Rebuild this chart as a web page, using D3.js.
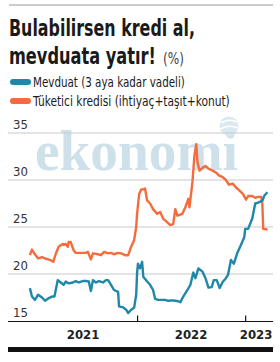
<!DOCTYPE html>
<html>
<head>
<meta charset="utf-8">
<script src="https://cdn.jsdelivr.net/npm/d3@7"></script>
<style>
  body { margin: 0; background: #fff; }
  svg { display: block; }
  .narrow { font-family: "Liberation Sans Narrow", "DejaVu Sans Condensed", "Roboto", sans-serif; }
</style>
</head>
<body>
<div id="chart"></div>
<script>
// Mevduat (3 aya kadar vadeli)
var depositDates = ["2021-01-04","2021-01-11","2021-01-21","2021-02-01","2021-02-14","2021-02-24","2021-03-07","2021-03-20","2021-03-28","2021-04-08","2021-04-14","2021-04-28","2021-05-05","2021-05-15","2021-05-29","2021-06-08","2021-06-18","2021-07-02","2021-07-15","2021-07-22","2021-07-29","2021-08-05","2021-08-15","2021-08-25","2021-09-08","2021-09-18","2021-09-25","2021-10-05","2021-10-15","2021-10-29","2021-11-01","2021-11-15","2021-11-25","2021-12-02","2021-12-12","2021-12-22","2021-12-29","2022-01-01","2022-01-04","2022-01-11","2022-01-18","2022-01-22","2022-02-04","2022-02-14","2022-02-24","2022-03-03","2022-03-13","2022-03-27","2022-04-06","2022-04-16","2022-04-30","2022-05-10","2022-05-20","2022-05-27","2022-06-06","2022-06-20","2022-06-30","2022-07-10","2022-07-17","2022-07-27","2022-08-10","2022-08-20","2022-08-30","2022-09-10","2022-09-17","2022-09-27","2022-10-07","2022-10-17","2022-10-28","2022-11-04","2022-11-14","2022-11-24","2022-12-05","2022-12-15","2022-12-29","2023-01-01","2023-01-11","2023-01-25","2023-02-04","2023-02-14","2023-02-28","2023-03-07","2023-03-17"];
var depositValues = [18.5,17.6,17.25,17.8,17.5,17.15,17.4,17.6,17.6,19.35,19.2,18.85,19.2,19.0,19.1,19.25,19.1,19.25,19.25,19.2,18.2,19.35,19.1,19.25,19.1,19.35,19.35,18.85,18.3,18.1,16.55,16.45,16.2,15.85,16.2,16.4,17.8,20.1,21.1,20.6,21.3,19.7,19.2,18.85,18.3,17.35,17.25,17.25,17.25,17.15,17.2,17.15,17.1,17.0,17.6,18.3,18.85,20.15,19.55,20.6,20.25,19.55,18.55,18.6,19.35,19.35,18.5,19.15,19.55,19.9,21.5,21.1,22.2,22.9,23.9,24.8,24.8,25.9,27.5,27.6,27.8,28.35,28.7];

// Tüketici kredisi (ihtiyaç+taşıt+konut)
var loanDates = ["2021-01-04","2021-01-11","2021-01-21","2021-02-01","2021-02-14","2021-02-24","2021-03-07","2021-03-20","2021-03-24","2021-04-01","2021-04-11","2021-04-25","2021-04-28","2021-05-05","2021-05-12","2021-05-15","2021-05-22","2021-06-01","2021-06-08","2021-06-25","2021-07-12","2021-07-19","2021-07-29","2021-08-05","2021-08-22","2021-09-01","2021-09-12","2021-09-25","2021-10-05","2021-10-15","2021-10-29","2021-11-08","2021-11-22","2021-12-02","2021-12-12","2021-12-22","2021-12-29","2022-01-01","2022-01-08","2022-01-15","2022-01-22","2022-01-28","2022-02-04","2022-02-14","2022-02-24","2022-03-10","2022-03-20","2022-03-30","2022-04-13","2022-04-23","2022-05-03","2022-05-10","2022-05-17","2022-06-03","2022-06-13","2022-06-23","2022-06-27","2022-07-07","2022-07-14","2022-07-20","2022-07-24","2022-07-31","2022-08-10","2022-08-20","2022-08-30","2022-09-13","2022-09-24","2022-10-04","2022-10-17","2022-10-28","2022-11-07","2022-11-21","2022-12-01","2022-12-12","2022-12-25","2023-01-04","2023-01-11","2023-01-25","2023-02-04","2023-02-14","2023-02-24","2023-02-28","2023-03-03","2023-03-14","2023-03-17"];
var loanValues = [22.0,22.6,22.1,21.65,21.8,21.65,21.55,21.4,21.3,22.1,22.9,23.2,23.1,23.2,22.9,23.4,23.4,22.5,22.25,22.25,22.25,22.35,21.55,22.2,22.1,22.0,22.35,22.2,22.25,22.1,22.25,22.2,22.0,22.0,22.9,23.6,25.0,26.4,28.5,29.0,29.0,29.1,27.8,27.5,26.9,26.4,26.6,25.9,25.5,25.2,25.3,26.9,26.2,26.4,27.1,28.0,27.1,29.8,32.7,33.8,31.9,31.0,31.3,31.5,31.2,31.0,30.8,30.5,30.3,30.0,29.5,29.6,29.2,28.9,28.5,27.9,28.3,28.3,28.1,28.2,28.2,27.5,24.8,24.75,24.8];

var yTicks = [15, 20, 25, 30, 35];
var yearLabels = ["2021", "2022", "2023"];

var blue = "#1f87a8";
var orange = "#f36c3d";

var svgWidth = 280, svgHeight = 362;
var parse = d3.timeParse("%Y-%m-%d");

var svg = d3.select("#chart").append("svg")
    .attr("width", svgWidth)
    .attr("height", svgHeight);

// squeeze a text horizontally so it spans the given width
function fitText(sel, x0, y0, width) {
    var w = sel.node().getComputedTextLength();
    sel.attr("x", 0).attr("y", 0)
       .attr("transform", "translate(" + x0 + "," + y0 + ") scale(" + (width / w) + ",1)");
}

// top rule
svg.append("line")
    .attr("x1", 9).attr("x2", 273).attr("y1", 5).attr("y2", 5)
    .attr("stroke", "#9a9a9a").attr("stroke-width", 1);

// title
var t1 = svg.append("text").attr("class", "narrow")
    .attr("fill", "#1a1a1a")
    .style("font-weight", "bold").style("font-size", "23px")
    .text("Bulabilirsen kredi al,");
fitText(t1, 9, 36, 186);
var t2 = svg.append("text").attr("class", "narrow")
    .attr("fill", "#1a1a1a")
    .style("font-weight", "bold").style("font-size", "23px")
    .text("mevduata yatır!");
fitText(t2, 9, 64, 147);
var t3 = svg.append("text").attr("class", "narrow")
    .style("font-size", "16px").attr("fill", "#444")
    .text("(%)");
fitText(t3, 163, 64, 21);

// legend
var legend = [["Mevduat (3 aya kadar vadeli)", blue, 152], ["Tüketici kredisi (ihtiyaç+taşıt+konut)", orange, 197]];
legend.forEach(function(d, i) {
    var ly = 82 + i * 19;
    svg.append("rect").attr("x", 10).attr("y", ly - 3).attr("width", 21).attr("height", 6)
        .attr("rx", 3).attr("fill", d[1]);
    var lt = svg.append("text").attr("class", "narrow")
        .style("font-size", "13.5px").attr("fill", "#1a1a1a")
        .text(d[0]);
    fitText(lt, 33, ly + 5, d[2]);
});

// scales
var x = d3.scaleTime()
    .domain([parse("2021-01-01"), parse("2023-04-05")])
    .range([29, 273]);
var y = d3.scaleLinear().domain([15, 35]).range([321, 133]);

// watermark
var wm = svg.append("g").attr("opacity", 0.5);
var wt = wm.append("text")
    .style("font-family", "'Liberation Serif', 'DejaVu Serif', serif")
    .style("font-weight", "bold").style("font-size", "56px")
    .attr("fill", "#9fc3d6").text("ekonomi");
fitText(wt, 35, 170, 203);
wm.append("circle").attr("cx", 229).attr("cy", 126).attr("r", 9.5)
    .attr("fill", "#b7d2e0");
wm.append("path").attr("d", "M221,123 Q229,118 237,122 M220,129 Q229,124 238,128")
    .attr("stroke", "#fff").attr("stroke-width", 1.5).attr("fill", "none");

// gridlines + labels
svg.append("g").selectAll("line").data(yTicks.slice(1)).join("line")
    .attr("x1", 8).attr("x2", 273)
    .attr("y1", d => y(d)).attr("y2", d => y(d))
    .attr("stroke", "#c9c9c9").attr("stroke-width", 1);

svg.append("g").selectAll("text").data(yTicks).join("text")
    .attr("class", "narrow")
    .attr("x", 13).attr("y", d => y(d) - 4)
    .style("font-size", "13px").attr("fill", "#333")
    .text(d => d);

// lines
var line = d3.line().x(d => x(d[0])).y(d => y(d[1]));
var loanData = loanDates.map((d, i) => [parse(d), loanValues[i]]);
var depositData = depositDates.map((d, i) => [parse(d), depositValues[i]]);

svg.append("path").datum(loanData).attr("d", line)
    .attr("fill", "none").attr("stroke", orange).attr("stroke-width", 2.4)
    .attr("stroke-linejoin", "round");
svg.append("path").datum(depositData).attr("d", line)
    .attr("fill", "none").attr("stroke", blue).attr("stroke-width", 2.4)
    .attr("stroke-linejoin", "round");

// x axis
svg.append("line").attr("x1", 8).attr("x2", 273).attr("y1", 321.5).attr("y2", 321.5)
    .attr("stroke", "#111").attr("stroke-width", 1.2);

var xAxis = d3.axisBottom(x)
    .tickValues([parse("2022-01-01"), parse("2023-01-01")])
    .tickSize(-6).tickFormat("");
var ax = svg.append("g").attr("transform", "translate(0,321.5)").call(xAxis);
ax.select(".domain").remove();
ax.selectAll("line").attr("stroke", "#111").attr("stroke-width", 1.2);

var yearMid = [
    [parse("2021-01-01"), parse("2022-01-01")],
    [parse("2022-01-01"), parse("2023-01-01")],
    [parse("2023-01-01"), parse("2023-04-05")]
];
svg.append("g").selectAll("text").data(yearLabels).join("text")
    .attr("class", "narrow")
    .attr("x", (d, i) => (x(yearMid[i][0]) + x(yearMid[i][1])) / 2 - (i == 2 ? 3 : 0))
    .attr("y", 339)
    .attr("text-anchor", "middle")
    .style("font-size", "13px").style("font-weight", "bold").attr("fill", "#222")
    .text(d => d);

// bottom bar
svg.append("rect").attr("x", 8).attr("y", 347).attr("width", 265).attr("height", 5)
    .attr("fill", "#111");
</script>
</body>
</html>
